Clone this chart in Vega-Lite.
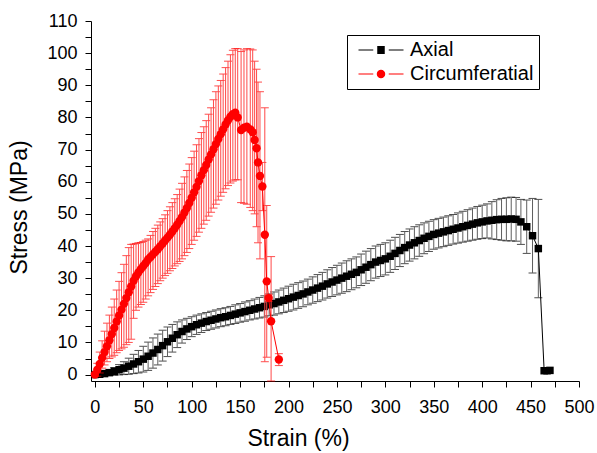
{
  "$schema": "https://vega.github.io/schema/vega-lite/v6.json",
  "width": 488,
  "height": 360,
  "autosize": {"type": "none"},
  "padding": {"left": 91, "top": 21, "right": 18, "bottom": 72},
  "background": "white",
  "config": {
    "view": {"stroke": null},
    "axis": {
      "grid": false,
      "domainColor": "black",
      "domainWidth": 1,
      "tickColor": "black",
      "tickWidth": 1,
      "tickSize": 6,
      "labelColor": "black",
      "labelFont": "Liberation Sans",
      "labelFontSize": 18,
      "titleColor": "black",
      "titleFont": "Liberation Sans",
      "titleFontSize": 23,
      "titleFontWeight": "normal"
    }
  },
  "datasets": {
    "axial": [
      {"x":0,"y":0,"lo":-0.3,"hi":0.3},{"x":5,"y":0.1,"lo":-0.3,"hi":0.5},{"x":10,"y":0.3,"lo":-0.3,"hi":0.9},{"x":15,"y":0.6,"lo":-0.3,"hi":1.5},
      {"x":20,"y":1.0,"lo":-0.2,"hi":2.2},{"x":25,"y":1.5,"lo":-0.1,"hi":3.1},{"x":30,"y":2.0,"lo":0,"hi":4.0},{"x":35,"y":2.6,"lo":0.1,"hi":5.1},
      {"x":40,"y":3.3,"lo":0.3,"hi":6.3},{"x":45,"y":4.0,"lo":0.5,"hi":7.5},{"x":50,"y":4.8,"lo":0.8,"hi":8.8},{"x":55,"y":5.7,"lo":1.3,"hi":10.1},
      {"x":60,"y":6.7,"lo":2.0,"hi":11.4},{"x":65,"y":7.8,"lo":3.0,"hi":12.6},{"x":70,"y":9.0,"lo":4.2,"hi":13.8},{"x":75,"y":10.2,"lo":5.6,"hi":14.8},
      {"x":80,"y":11.3,"lo":7.0,"hi":15.6},{"x":85,"y":12.4,"lo":8.4,"hi":16.4},{"x":90,"y":13.4,"lo":9.8,"hi":17.0},{"x":95,"y":14.2,"lo":10.9,"hi":17.5},
      {"x":100,"y":14.9,"lo":11.8,"hi":18.0},{"x":105,"y":15.5,"lo":12.5,"hi":18.5},{"x":110,"y":16.0,"lo":13.1,"hi":18.9},{"x":115,"y":16.5,"lo":13.7,"hi":19.3},
      {"x":120,"y":16.9,"lo":14.1,"hi":19.7},{"x":125,"y":17.3,"lo":14.5,"hi":20.1},{"x":130,"y":17.7,"lo":14.9,"hi":20.5},{"x":135,"y":18.0,"lo":15.2,"hi":20.8},
      {"x":140,"y":18.4,"lo":15.6,"hi":21.2},{"x":145,"y":18.8,"lo":15.9,"hi":21.7},{"x":150,"y":19.2,"lo":16.3,"hi":22.1},{"x":155,"y":19.6,"lo":16.6,"hi":22.6},
      {"x":160,"y":20.0,"lo":17.0,"hi":23.0},{"x":165,"y":20.4,"lo":17.3,"hi":23.5},{"x":170,"y":20.8,"lo":17.6,"hi":24.0},{"x":175,"y":21.2,"lo":17.9,"hi":24.5},
      {"x":180,"y":21.7,"lo":18.3,"hi":25.1},{"x":185,"y":22.1,"lo":18.5,"hi":25.7},{"x":190,"y":22.6,"lo":18.9,"hi":26.3},{"x":195,"y":23.1,"lo":19.3,"hi":26.9},
      {"x":200,"y":23.6,"lo":19.7,"hi":27.5},{"x":205,"y":24.1,"lo":20.1,"hi":28.1},{"x":210,"y":24.6,"lo":20.6,"hi":28.6},{"x":215,"y":25.1,"lo":21.1,"hi":29.1},
      {"x":220,"y":25.7,"lo":21.7,"hi":29.7},{"x":225,"y":26.3,"lo":22.2,"hi":30.4},{"x":230,"y":26.9,"lo":22.7,"hi":31.1},{"x":235,"y":27.5,"lo":23.2,"hi":31.8},
      {"x":240,"y":28.2,"lo":23.8,"hi":32.6},{"x":245,"y":28.8,"lo":24.3,"hi":33.3},{"x":250,"y":29.4,"lo":24.8,"hi":34.0},{"x":255,"y":30.0,"lo":25.3,"hi":34.7},
      {"x":260,"y":30.6,"lo":25.8,"hi":35.4},{"x":265,"y":31.2,"lo":26.4,"hi":36.0},{"x":270,"y":31.8,"lo":27.0,"hi":36.6},{"x":275,"y":32.6,"lo":27.7,"hi":37.5},
      {"x":280,"y":33.4,"lo":28.4,"hi":38.4},{"x":285,"y":34.2,"lo":29.2,"hi":39.2},{"x":290,"y":35.0,"lo":30.0,"hi":40.0},{"x":295,"y":35.5,"lo":30.5,"hi":40.5},
      {"x":300,"y":36.0,"lo":31.0,"hi":41.0},{"x":305,"y":36.8,"lo":31.8,"hi":41.8},{"x":310,"y":37.7,"lo":32.7,"hi":42.7},{"x":315,"y":38.6,"lo":33.6,"hi":43.6},
      {"x":320,"y":39.5,"lo":34.5,"hi":44.5},{"x":325,"y":40.3,"lo":35.3,"hi":45.3},{"x":330,"y":41.0,"lo":36.0,"hi":46.0},{"x":335,"y":41.7,"lo":36.8,"hi":46.6},
      {"x":340,"y":42.4,"lo":37.6,"hi":47.2},{"x":345,"y":43.0,"lo":38.3,"hi":47.7},{"x":350,"y":43.6,"lo":39.0,"hi":48.2},{"x":355,"y":44.0,"lo":39.4,"hi":48.6},
      {"x":360,"y":44.4,"lo":39.8,"hi":49.0},{"x":365,"y":44.8,"lo":40.2,"hi":49.4},{"x":370,"y":45.2,"lo":40.6,"hi":49.8},{"x":375,"y":45.6,"lo":40.9,"hi":50.3},
      {"x":380,"y":46.0,"lo":41.2,"hi":50.8},{"x":385,"y":46.4,"lo":41.5,"hi":51.3},{"x":390,"y":46.8,"lo":41.8,"hi":51.8},{"x":395,"y":47.2,"lo":42.1,"hi":52.3},
      {"x":400,"y":47.5,"lo":42.3,"hi":52.7},{"x":405,"y":47.8,"lo":42.5,"hi":53.1},{"x":410,"y":48.0,"lo":42.2,"hi":53.8},{"x":415,"y":48.2,"lo":42.0,"hi":54.4},
      {"x":420,"y":48.3,"lo":41.8,"hi":54.8},{"x":425,"y":48.3,"lo":41.6,"hi":55.0},{"x":430,"y":48.4,"lo":41.6,"hi":55.2},{"x":435,"y":48.3,"lo":41.5,"hi":55.1},
      {"x":440,"y":47.5,"lo":40.5,"hi":54.5},{"x":446,"y":46.0,"lo":37.7,"hi":54.3},{"x":452,"y":43.2,"lo":31.6,"hi":54.8},{"x":458,"y":39.2,"lo":23.9,"hi":54.5},
      {"x":464,"y":1.2},{"x":467,"y":1.2},{"x":470,"y":1.3}
    ],
    "circ": [
      {"x":0,"y":0,"lo":-0.5,"hi":0.5},{"x":2.5,"y":1.5,"lo":-0.5,"hi":3.5},{"x":5,"y":3.3,"lo":0.5,"hi":7},{"x":7.5,"y":5.2,"lo":2,"hi":10.5},
      {"x":10,"y":7,"lo":3,"hi":13.5},{"x":12.5,"y":8.8,"lo":4,"hi":16},{"x":15,"y":10.7,"lo":5,"hi":18.5},{"x":17.5,"y":12.6,"lo":5.5,"hi":21},
      {"x":20,"y":14.5,"lo":6,"hi":23.5},{"x":22.5,"y":16.5,"lo":6.8,"hi":26.3},{"x":25,"y":18.4,"lo":7.5,"hi":29},{"x":27.5,"y":20.2,"lo":8,"hi":31.7},
      {"x":30,"y":22,"lo":8.5,"hi":34.3},{"x":32.5,"y":23.8,"lo":9.3,"hi":37},{"x":35,"y":25.6,"lo":10,"hi":39.5},{"x":37.5,"y":27.4,"lo":11,"hi":40.5},
      {"x":40,"y":29.2,"lo":17.5,"hi":40.6},{"x":42.5,"y":30.6,"lo":20,"hi":40.8},{"x":45,"y":31.8,"lo":21,"hi":41},{"x":47.5,"y":32.8,"lo":21.8,"hi":41.1},
      {"x":50,"y":33.8,"lo":22.5,"hi":41.4},{"x":52.5,"y":34.7,"lo":23.5,"hi":41.8},{"x":55,"y":35.8,"lo":24.5,"hi":42.2},{"x":57.5,"y":36.6,"lo":25.5,"hi":43.3},
      {"x":60,"y":37.4,"lo":26.5,"hi":44.5},{"x":62.5,"y":38.2,"lo":27.4,"hi":45.5},{"x":65,"y":39.0,"lo":28.3,"hi":46.5},{"x":67.5,"y":39.9,"lo":29.2,"hi":47.5},
      {"x":70,"y":40.8,"lo":30.0,"hi":48.5},{"x":72.5,"y":41.7,"lo":30.8,"hi":49.7},{"x":75,"y":42.6,"lo":31.5,"hi":51.0},{"x":77.5,"y":43.5,"lo":32.3,"hi":52.2},
      {"x":80,"y":44.5,"lo":33.0,"hi":53.5},{"x":82.5,"y":45.5,"lo":33.8,"hi":54.7},{"x":85,"y":46.6,"lo":34.5,"hi":56.0},{"x":87.5,"y":47.8,"lo":35.2,"hi":57.7},
      {"x":90,"y":49.0,"lo":36.0,"hi":59.5},{"x":92.5,"y":50.4,"lo":37.0,"hi":61.5},{"x":95,"y":51.8,"lo":38.0,"hi":63.5},{"x":97.5,"y":53.4,"lo":39.2,"hi":65.5},
      {"x":100,"y":55.0,"lo":40.5,"hi":67.5},{"x":102.5,"y":56.7,"lo":41.8,"hi":69.5},{"x":105,"y":58.4,"lo":43.0,"hi":71.5},{"x":107.5,"y":60.2,"lo":44.3,"hi":73.4},
      {"x":110,"y":62.0,"lo":45.5,"hi":75.3},{"x":112.5,"y":63.6,"lo":46.8,"hi":77.1},{"x":115,"y":65.2,"lo":48.0,"hi":79.0},{"x":117.5,"y":66.9,"lo":49.3,"hi":81.0},
      {"x":120,"y":68.5,"lo":50.5,"hi":83.0},{"x":122.5,"y":70.1,"lo":51.8,"hi":85.5},{"x":125,"y":71.7,"lo":53.0,"hi":88.0},{"x":127.5,"y":73.3,"lo":54.3,"hi":89.8},
      {"x":130,"y":74.8,"lo":55.5,"hi":91.5},{"x":132.5,"y":76.3,"lo":56.7,"hi":93.5},{"x":135,"y":77.8,"lo":57.8,"hi":95.5},{"x":137.5,"y":79.1,"lo":58.8,"hi":97.5},
      {"x":140,"y":80.2,"lo":59.6,"hi":99.5},{"x":142.5,"y":81.0,"lo":60.2,"hi":100.9},{"x":145,"y":81.5,"lo":60.6,"hi":101.4},{"x":147.5,"y":80.0,"lo":60.6,"hi":101.4},
      {"x":151,"y":76.1,"lo":53.5,"hi":100.5},{"x":154,"y":76.8,"lo":53.3,"hi":101.0},{"x":157,"y":77.1,"lo":53.0,"hi":101.4},{"x":160.5,"y":76.3,"lo":52,"hi":101.3},
      {"x":163,"y":75.4,"lo":51,"hi":101},{"x":165,"y":73.0,"lo":50,"hi":97.5},{"x":167,"y":70.4,"lo":46,"hi":95},{"x":168.5,"y":66.0,"lo":41,"hi":91},
      {"x":170.5,"y":61.8,"lo":36,"hi":88},{"x":173,"y":58.5,"lo":51,"hi":66},{"x":175.5,"y":43.5,"lo":4,"hi":83},{"x":177.5,"y":29.0,"lo":5.4,"hi":52.6},
      {"x":179.5,"y":23.8,"lo":22.8,"hi":24.8},{"x":182,"y":16.6,"lo":-2,"hi":36.7},{"x":190,"y":4.7,"lo":2.8,"hi":6.5}
    ]
  },
  "encoding": {
    "x": {
      "field": "x", "type": "quantitative",
      "scale": {"domain": [-4, 500], "nice": false, "zero": false},
      "axis": {
        "title": "Strain (%)",
        "values": [0,25,50,75,100,125,150,175,200,225,250,275,300,325,350,375,400,425,450,475,500],
        "labelExpr": "datum.value % 50 === 0 ? datum.label : ''",
        "labelBaseline": "alphabetic",
        "labelPadding": 25,
        "labelFlush": false,
        "labelOverlap": false,
        "titleX": 207,
        "titleY": 64,
        "titleBaseline": "alphabetic",
        "encode": {"ticks": {"update": {"y2": {"signal": "datum.value % 50 === 0 ? 6 : 3"}}}}
      }
    }
  },
  "layer": [
    {
      "data": {"name": "axial"},
      "transform": [{"filter": "isValid(datum.lo)"}],
      "mark": {"type": "errorbar", "thickness": 1, "ticks": {"size": 8, "color": "black"}, "rule": {"color": "#5e5e5e"}},
      "encoding": {
        "y": {"field": "lo", "type": "quantitative", "scale": {"domain": [-2, 110], "nice": false, "zero": false},
          "axis": {"title": "Stress (MPa)", "values": [0,5,10,15,20,25,30,35,40,45,50,55,60,65,70,75,80,85,90,95,100,105,110], "tickCount": 23,
            "labelExpr": "datum.value % 10 === 0 ? datum.label : ''", "labelPadding": 8, "labelFlush": false, "labelOverlap": false,
            "titleX": -65, "titleY": 186, "titleAngle": -90, "titleBaseline": "alphabetic", "titleAlign": "center",
            "encode": {"ticks": {"update": {"x2": {"signal": "datum.value % 10 === 0 ? -6 : -3"}}}}}},
        "y2": {"field": "hi"}
      }
    },
    {
      "data": {"name": "axial"},
      "mark": {"type": "line", "color": "black", "strokeWidth": 1, "point": {"shape": "square", "filled": true, "size": 56, "color": "black", "opacity": 1}},
      "encoding": {
        "y": {"field": "y", "type": "quantitative", "scale": {"domain": [-2, 110], "nice": false, "zero": false},
          "axis": {"title": "Stress (MPa)", "values": [0,5,10,15,20,25,30,35,40,45,50,55,60,65,70,75,80,85,90,95,100,105,110], "tickCount": 23,
            "labelExpr": "datum.value % 10 === 0 ? datum.label : ''", "labelPadding": 8, "labelFlush": false, "labelOverlap": false,
            "titleX": -65, "titleY": 186, "titleAngle": -90, "titleBaseline": "alphabetic", "titleAlign": "center",
            "encode": {"ticks": {"update": {"x2": {"signal": "datum.value % 10 === 0 ? -6 : -3"}}}}}}
      }
    },
    {
      "data": {"name": "circ"},
      "mark": {"type": "errorbar", "thickness": 1, "ticks": {"size": 8, "color": "red"}, "rule": {"color": "#ff4848"}},
      "encoding": {
        "y": {"field": "lo", "type": "quantitative", "scale": {"domain": [-2, 110], "nice": false, "zero": false},
          "axis": {"title": "Stress (MPa)", "values": [0,5,10,15,20,25,30,35,40,45,50,55,60,65,70,75,80,85,90,95,100,105,110], "tickCount": 23,
            "labelExpr": "datum.value % 10 === 0 ? datum.label : ''", "labelPadding": 8, "labelFlush": false, "labelOverlap": false,
            "titleX": -65, "titleY": 186, "titleAngle": -90, "titleBaseline": "alphabetic", "titleAlign": "center",
            "encode": {"ticks": {"update": {"x2": {"signal": "datum.value % 10 === 0 ? -6 : -3"}}}}}},
        "y2": {"field": "hi"}
      }
    },
    {
      "data": {"name": "circ"},
      "mark": {"type": "line", "color": "red", "strokeWidth": 1, "point": {"shape": "circle", "filled": true, "size": 70, "color": "red", "opacity": 1}},
      "encoding": {
        "y": {"field": "y", "type": "quantitative", "scale": {"domain": [-2, 110], "nice": false, "zero": false},
          "axis": {"title": "Stress (MPa)", "values": [0,5,10,15,20,25,30,35,40,45,50,55,60,65,70,75,80,85,90,95,100,105,110], "tickCount": 23,
            "labelExpr": "datum.value % 10 === 0 ? datum.label : ''", "labelPadding": 8, "labelFlush": false, "labelOverlap": false,
            "titleX": -65, "titleY": 186, "titleAngle": -90, "titleBaseline": "alphabetic", "titleAlign": "center",
            "encode": {"ticks": {"update": {"x2": {"signal": "datum.value % 10 === 0 ? -6 : -3"}}}}}}
      }
    },
    {
      "data": {"values": [{"s": "Axial"}, {"s": "Circumferatial"}]},
      "transform": [{"filter": "false"}],
      "mark": {"type": "point", "filled": true, "opacity": 1},
      "encoding": {
        "color": {"field": "s", "type": "nominal",
          "scale": {"domain": ["Axial", "Circumferatial"], "range": ["black", "red"]},
          "legend": {
            "title": null, "orient": "none", "legendX": 256, "legendY": 14,
            "strokeColor": "black", "fillColor": "white", "padding": 5,
            "symbolSize": 100, "symbolStrokeWidth": 0, "symbolOpacity": 1,
            "labelFont": "Liberation Sans", "labelFontSize": 20, "labelColor": "black",
            "labelOffset": 38, "rowPadding": 4
          }},
        "shape": {"field": "s", "type": "nominal",
          "scale": {"domain": ["Axial", "Circumferatial"], "range": ["M-0.7,-0.1H2.25V0.1H-0.7ZM3.05,-0.8H4.55V0.8H3.05ZM5.35,-0.1H8.3V0.1H5.35Z", "M-0.7,-0.1H2.25V0.1H-0.7ZM4.65,0A0.85,0.85 0 1 1 2.95,0A0.85,0.85 0 1 1 4.65,0ZM5.35,-0.1H8.3V0.1H5.35Z"]}}
      }
    }
  ]
}
